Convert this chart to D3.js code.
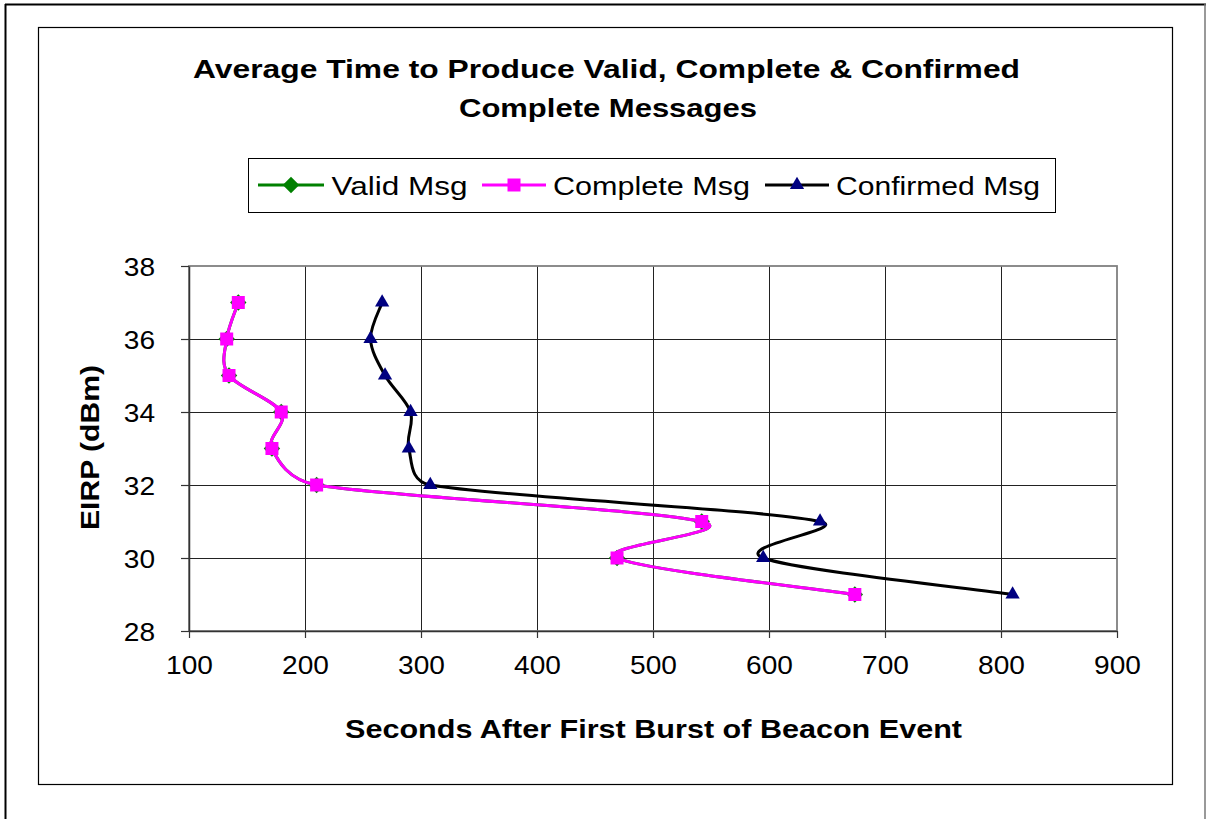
<!DOCTYPE html>
<html>
<head>
<meta charset="utf-8">
<script src="https://cdn.jsdelivr.net/npm/d3@7"></script>
<style>
  body { margin: 0; background: #fff; }
  svg { display: block; font-family: "Liberation Sans", Arial, sans-serif; }
</style>
</head>
<body>
<svg id="chart" width="1206" height="819"></svg>
<script>
// EIRP levels (dBm) and seconds for each series
const eirp = [37, 36, 35, 34, 33, 32, 31, 30, 29];
const validMsg = [142.5, 132.5, 134.5, 179.5, 171.5, 210, 542, 469, 674];
const completeMsg = [142.5, 132.5, 134.5, 179.5, 171.5, 210, 542, 469, 674];
const confirmedMsg = [266.5, 256.5, 269, 291, 289.5, 308, 644, 595, 810];
const xTicks = [100, 200, 300, 400, 500, 600, 700, 800, 900];
const yTicks = [28, 30, 32, 34, 36, 38];

const svg = d3.select("#chart");

// stretch a text to a given width (the source chart uses wide glyph spacing)
function fitWidth(sel, w) {
    sel.each(function () {
        this.setAttribute("textLength", w);
        this.setAttribute("lengthAdjust", "spacingAndGlyphs");
    });
}
function stretch(sel, k) {
    sel.each(function () {
        const len = this.getComputedTextLength();
        this.setAttribute("textLength", len * k);
        this.setAttribute("lengthAdjust", "spacingAndGlyphs");
    });
}

// outer and inner frames
svg.append("line").attr("x1", 5.5).attr("x2", 5.5).attr("y1", 4).attr("y2", 819)
    .attr("stroke", "#000").attr("stroke-width", 2);
svg.append("line").attr("x1", 5).attr("x2", 1206).attr("y1", 4.5).attr("y2", 4.5)
    .attr("stroke", "#000").attr("stroke-width", 2);
svg.append("line").attr("x1", 1205).attr("x2", 1205).attr("y1", 4).attr("y2", 819)
    .attr("stroke", "#777").attr("stroke-width", 1.5);
svg.append("rect").attr("x", 38.5).attr("y", 27.5).attr("width", 1134).attr("height", 757)
    .attr("fill", "none").attr("stroke", "#000").attr("stroke-width", 1.2);

// title
svg.append("text").attr("x", 193).attr("y", 78)
    .style("font-weight", "bold").style("font-size", "26px")
    .text("Average Time to Produce Valid, Complete & Confirmed")
    .call(fitWidth, 827);
svg.append("text").attr("x", 459).attr("y", 117)
    .style("font-weight", "bold").style("font-size", "26px")
    .text("Complete Messages")
    .call(fitWidth, 298);

// scales
const plotL = 189, plotR = 1117, plotT = 266, plotB = 631;
const x = d3.scaleLinear().domain([100, 900]).range([plotL, plotR]);
const y = d3.scaleLinear().domain([28, 38]).range([plotB, plotT]);

// gridlines
const grid = svg.append("g");
grid.selectAll(".vg").data(xTicks.slice(1, -1)).enter().append("line")
    .attr("x1", d => Math.round(x(d)) + 0.5).attr("x2", d => Math.round(x(d)) + 0.5)
    .attr("y1", plotT).attr("y2", plotB)
    .attr("stroke", "#222").attr("stroke-width", 1);
grid.selectAll(".hg").data(yTicks.slice(1, -1)).enter().append("line")
    .attr("x1", plotL).attr("x2", plotR)
    .attr("y1", d => Math.round(y(d)) + 0.5).attr("y2", d => Math.round(y(d)) + 0.5)
    .attr("stroke", "#222").attr("stroke-width", 1);

// plot border (top/right gray)
svg.append("rect").attr("x", plotL).attr("y", plotT).attr("width", plotR - plotL).attr("height", plotB - plotT)
    .attr("fill", "none").attr("stroke", "#808080").attr("stroke-width", 1.8);

// axes
const xAxis = d3.axisBottom(x).tickValues(xTicks).tickSize(7).tickSizeOuter(0).tickPadding(18);
const gx = svg.append("g").attr("transform", `translate(0,${plotB})`).call(xAxis);
gx.select(".domain").attr("stroke", "#333").attr("stroke-width", 1.5);
gx.selectAll(".tick line").attr("stroke", "#333").attr("stroke-width", 1.2);
gx.selectAll("text").style("font-size", "26px").attr("fill", "#000")
    .attr("font-family", "Liberation Sans, Arial, sans-serif")
    .call(stretch, 1.08);

const yAxis = d3.axisLeft(y).tickValues(yTicks).tickSize(8).tickSizeOuter(0).tickPadding(26);
const gy = svg.append("g").attr("transform", `translate(${plotL},0)`).call(yAxis);
gy.select(".domain").attr("stroke", "#333").attr("stroke-width", 1.5);
gy.selectAll(".tick line").attr("stroke", "#333").attr("stroke-width", 1.2);
gy.selectAll("text").style("font-size", "26px").attr("fill", "#000").attr("dy", "0.36em")
    .attr("font-family", "Liberation Sans, Arial, sans-serif")
    .call(stretch, 1.08);

// axis titles
svg.append("text")
    .attr("x", 345).attr("y", 738)
    .style("font-weight", "bold").style("font-size", "26px")
    .text("Seconds After First Burst of Beacon Event")
    .call(fitWidth, 617);
svg.append("text")
    .attr("transform", "translate(99,530) rotate(-90)")
    .style("font-weight", "bold").style("font-size", "26px")
    .text("EIRP (dBm)")
    .call(fitWidth, 165);

// Excel-like smoothed line: Catmull-Rom tangents (1/6), with each control arm
// limited to half the length of its segment
function smoothPath(pts) {
    const p = d3.path();
    const n = pts.length;
    const dist = (a, b) => Math.hypot(b[0] - a[0], b[1] - a[1]);
    const arm = (from, a, b, seg, sign) => {
        const dx = b[0] - a[0], dy = b[1] - a[1];
        const len = Math.hypot(dx, dy);
        if (len === 0) return from;
        const k = Math.min(len / 6, seg / 2) / len;
        return [from[0] + sign * dx * k, from[1] + sign * dy * k];
    };
    p.moveTo(pts[0][0], pts[0][1]);
    for (let i = 0; i < n - 1; i++) {
        const p0 = pts[Math.max(i - 1, 0)], p1 = pts[i], p2 = pts[i + 1], p3 = pts[Math.min(i + 2, n - 1)];
        const d12 = dist(p1, p2);
        const c1 = arm(p1, p0, p2, d12, 1);
        const c2 = arm(p2, p1, p3, d12, -1);
        p.bezierCurveTo(c1[0], c1[1], c2[0], c2[1], p2[0], p2[1]);
    }
    return p.toString();
}

const series = [
    { name: "Valid Msg", values: validMsg, color: "#008000", symbol: d3.symbol().type(d3.symbolSquare).size(135), rot: 45, mColor: "#008000" },
    { name: "Complete Msg", values: completeMsg, color: "#FF00FF", symbol: d3.symbol().type(d3.symbolSquare).size(169), rot: 0, mColor: "#FF00FF" },
    { name: "Confirmed Msg", values: confirmedMsg, color: "#000000", symbol: d3.symbol().type(d3.symbolTriangle).size(88), rot: 0, mColor: "#000080" }
];

series.forEach(s => {
    const pts = s.values.map((v, i) => [x(v), y(eirp[i])]);
    svg.append("path")
        .attr("d", smoothPath(pts))
        .attr("fill", "none")
        .attr("stroke", s.color)
        .attr("stroke-width", 3);
    svg.selectAll(null).data(pts).enter().append("path")
        .attr("d", s.symbol)
        .attr("transform", d => `translate(${d[0]},${d[1]}) rotate(${s.rot})`)
        .attr("fill", s.mColor);
});

// legend
const legend = svg.append("g");
legend.append("rect").attr("x", 248.5).attr("y", 158.5).attr("width", 807).attr("height", 54)
    .attr("fill", "#fff").attr("stroke", "#000").attr("stroke-width", 1);
const legendPos = [
    { x1: 258, x2: 324, tx: 331.5, tw: 136 },
    { x1: 482, x2: 546, tx: 553, tw: 197 },
    { x1: 765, x2: 829, tx: 836, tw: 204 }
];
series.forEach((s, i) => {
    const p = legendPos[i];
    const ly = 185;
    legend.append("line").attr("x1", p.x1).attr("x2", p.x2).attr("y1", ly).attr("y2", ly)
        .attr("stroke", s.color).attr("stroke-width", 3);
    legend.append("path")
        .attr("d", s.symbol)
        .attr("transform", `translate(${(p.x1 + p.x2) / 2},${ly}) rotate(${s.rot})`)
        .attr("fill", s.mColor);
    legend.append("text")
        .attr("x", p.tx).attr("y", ly + 9.5)
        .style("font-size", "26px")
        .text(s.name)
        .call(fitWidth, p.tw);
});
</script>
</body>
</html>
